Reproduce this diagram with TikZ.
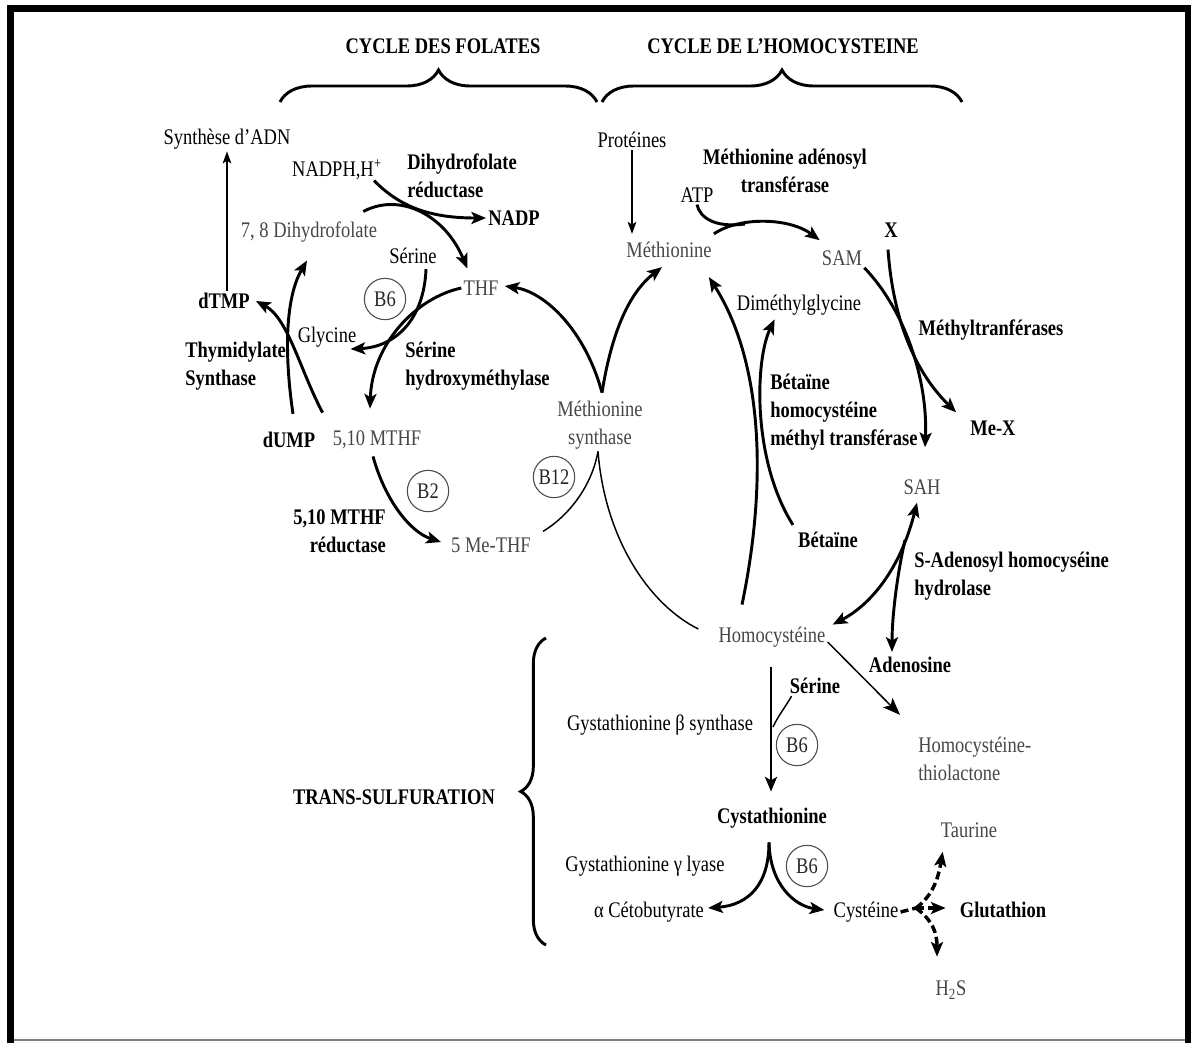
\documentclass[tikz,border=0pt]{standalone}
\usepackage{fontspec}
\setmainfont{Liberation Serif}[FakeStretch=0.83]
\usetikzlibrary{arrows.meta,calc,decorations.pathreplacing}
\newcommand{\dfont}{\fontsize{16.7pt}{21pt}\selectfont}
\tikzset{
 reg/.style={font=\dfont, text=black!72, inner sep=1.5pt},
 regb/.style={font=\dfont, text=black, inner sep=1.5pt},
 bld/.style={font=\dfont\bfseries, text=black, inner sep=1.5pt},
 vit/.style={circle, draw=black!70, line width=0.8pt, minimum size=31pt, inner sep=0pt, font=\dfont, text=black!85},
 thk/.style={line width=2.2pt, -{Stealth[length=11pt,width=9pt,inset=2.5pt]}},
 thkl/.style={line width=2.2pt},
 thn/.style={line width=1.1pt},
 thna/.style={line width=1.1pt, -{Stealth[length=9pt,width=6.5pt,inset=2pt]}},
 thnab/.style={line width=1.1pt, -{Stealth[length=13pt,width=10pt,inset=3pt]}},
 dsh/.style={line width=2.6pt, dash pattern=on 6pt off 3pt},
 dsha/.style={dsh, -{Stealth[length=11pt,width=9pt,inset=2.5pt]}},
 brc/.style={decorate, line width=2.2pt, decoration={brace, amplitude=#1}},
}
\begin{document}
\begin{tikzpicture}[x=0.75pt,y=-0.75pt]
\useasboundingbox (0,0) rectangle (1191,1043);
\fill[white] (0,0) rectangle (1191,1043);
% frame
\draw[line width=5.25pt, line join=miter] (10.5,1043) -- (10.5,8.5) -- (1188,8.5) -- (1188,1043);
\draw[black!50, line width=1pt] (14,1040) -- (1185,1040);

% titles and braces
\node[bld] (tfol) at (443,46) {CYCLE DES FOLATES};
\node[bld] (thcy) at (783,46) {CYCLE DE L’HOMOCYSTEINE};
\draw[brc=24pt] (280,102) -- (597,102);
\draw[brc=24pt] (602,102) -- (962,102);

% folate cycle nodes
\node[regb] (adn) at (227,139) {Synthèse d’ADN};
\node[regb] (nadph) at (337,170) {NADPH,H\textsuperscript{+}};
\node[bld, anchor=west, align=left] (dhfr) at (405,176) {Dihydrofolate\\réductase};
\node[bld] (nadp) at (514,218) {NADP};
\node[reg] (dhf) at (309,232) {7, 8 Dihydrofolate};
\node[regb] (ser1) at (413,256) {Sérine};
\node[reg] (thf) at (481,288) {THF};
\node[vit] (b6a) at (385,299) {B6};
\node[bld] (dtmp) at (224,301) {dTMP};
\node[regb] (gly) at (327,337) {Glycine};
\node[bld, anchor=west, align=left] (thy) at (183,366) {Thymidylate\\Synthase};
\node[bld, anchor=west, align=left] (shm) at (403,366) {Sérine\\hydroxyméthylase};
\node[bld] (dump) at (289,440) {dUMP};
\node[reg] (mthf) at (377,440) {5,10 MTHF};
\node[vit] (b2) at (428,491) {B2};
\node[bld, anchor=east, align=right] (mthfr) at (388,531) {5,10 MTHF\\réductase};
\node[reg] (methf) at (491,545) {5 Me-THF};
\node[vit] (b12) at (554,477) {B12};
\node[reg, align=center] (ms) at (600,425) {Méthionine\\synthase};

% homocysteine cycle nodes
\node[regb] (prot) at (632,140) {Protéines};
\node[bld, align=center] (mat) at (785,171) {Méthionine adénosyl\\transférase};
\node[regb] (atp) at (697,195) {ATP};
\node[reg] (met) at (669,250) {Méthionine};
\node[reg] (sam) at (842,258) {SAM};
\node[bld] (xx) at (891,230) {X};
\node[regb] (dmg) at (799,305) {Diméthylglycine};
\node[bld] (mtr) at (991,330) {Méthyltranférases};
\node[bld, anchor=west, align=left] (bhmt) at (768,412) {Bétaïne\\homocystéine\\méthyl transférase};
\node[bld] (mex) at (993,428) {Me-X};
\node[reg] (sah) at (922,487) {SAH};
\node[bld] (bet) at (828,540) {Bétaïne};
\node[bld, anchor=west, align=left] (sahh) at (912,576) {S-Adenosyl homocyséine\\hydrolase};
\node[reg] (hcy) at (772,637) {Homocystéine};
\node[bld] (ade) at (910,665) {Adenosine};

% trans-sulfuration nodes
\node[bld] (ser2) at (815,686) {Sérine};
\node[regb] (cbs) at (660,725) {Gystathionine β synthase};
\node[vit] (b6b) at (797,745) {B6};
\node[reg, anchor=west, align=left] (hct) at (916,759) {Homocystéine-\\thiolactone};
\node[bld] (trans) at (394,797) {TRANS-SULFURATION};
\draw[brc=19pt] (546,945) -- (546,638);
\node[bld] (cys) at (772,818) {Cystathionine};
\node[reg] (tau) at (969,830) {Taurine};
\node[regb] (cgl) at (645,866) {Gystathionine γ lyase};
\node[vit] (b6c) at (807,866) {B6};
\node[regb] (akb) at (649,912) {α Cétobutyrate};
\node[regb] (cyst) at (866,912) {Cystéine};
\node[bld] (glu) at (1003,910) {Glutathion};
\node[reg] (h2s) at (951,990) {H\textsubscript{2}S};

% folate connectors
\draw[thna] (dtmp.north -| adn.south) -- (adn.south);
\draw[thk] ($(nadph.south east)+(-10,-2)$) .. controls (400,207) and (430,218) .. (nadp.west);
\draw[thk] ($(dhf.north east)+(-16,-8)$) .. controls (400,192) and (445,215) .. ($(thf.north west)+(6,-10)$);
\draw[thk] (thf.west) .. controls (415,298) and (372,345) .. ($(mthf.north)+(-7,-20)$);
\draw[thk] ($(ser1.south)+(13,3)$) .. controls (424,320) and (395,347) .. ($(gly.east)+(-8,12)$);
\draw[thk] ($(dump.north)+(4,-16)$) .. controls (285,360) and (284,300) .. ($(dhf.south)+(-2,16)$);
\draw[thk] ($(mthf.north west)+(-8,-16)$) .. controls (300,370) and (288,318) .. ($(dtmp.east)+(4,0)$);
\draw[thk] ($(mthf.south)+(-4,5)$) .. controls (385,500) and (410,532) .. ($(methf.west)+(-8,-3)$);
\coordinate (msb) at ($(ms.south)+(-2,0)$);
\coordinate (mst) at ($(ms.north)+(2,-6)$);
\draw[thn] ($(methf.north east)+(10,-4)$) .. controls (570,515) and (592,485) .. (msb);
\draw[thn] (msb) .. controls (605,540) and (650,605) .. ($(hcy.west)+(-18,-8)$);
\draw[thk] (mst) .. controls (585,330) and (545,292) .. ($(thf.east)+(4,-2)$);
\draw[thk] (mst) .. controls (612,330) and (630,292) .. ($(met.south)+(-7,7)$);

% homocysteine cycle connectors
\draw[thna] (prot.south) -- ($(prot.south |- met.north)+(0,-6)$);
\draw[thk] ($(met.north east)+(0,-6)$) .. controls (740,216) and (790,218) .. ($(sam.north west)+(0,-8)$);
\coordinate (atpj) at (745,224);
\draw[thkl] (atp.south) .. controls (700,218) and (715,228) .. (atpj);
\draw[thk] (sam.south east) .. controls (905,310) and (928,380) .. ($(sah.north)+(3,-30)$);
\draw[thk] ($(xx.south)+(-3,10)$) .. controls (893,320) and (915,372) .. ($(mex.north west)+(-12,-6)$);
\draw[thk] ($(hcy.north)+(-30,-20)$) .. controls (768,480) and (762,360) .. ($(met.south east)+(-5,17)$);
\draw[thk] ($(bet.north west)+(-3,-5)$) .. controls (752,460) and (755,360) .. ($(dmg.south west)+(40,2)$);
\draw[line width=2.2pt, {Stealth[length=11pt,width=9pt,inset=2.5pt]}-{Stealth[length=11pt,width=9pt,inset=2.5pt]}] ($(sah.south)+(-5,6)$) .. controls (900,570) and (870,605) .. ($(hcy.north east)+(5,0)$);
\coordinate (sahj) at (905,540);
\draw[thk] (sahj) .. controls (896,580) and (892,620) .. ($(ade.north)+(-18,-3)$);

% trans-sulfuration connectors
\draw[thk] ($(hcy.south)+(-1,18)$) -- ($(cys.north)+(-1,-14)$);
\coordinate (serj) at (773,727);
\draw[thn] ($(ser2.south west)+(4,0)$) .. controls (786,706) and (778,716) .. (serj);
\draw[thnab] ($(hcy.east)+(0,5)$) -- ($(hct.north west)+(-16,-20)$);
\coordinate (cysj) at ($(cys.south)+(-3,12)$);
\draw[thk] (cysj) .. controls (769,885) and (748,905) .. ($(akb.east)+(2,-4)$);
\draw[thk] (cysj) .. controls (770,885) and (795,906) .. ($(cyst.west)+(-7,-2)$);
\coordinate (cj) at (916,908);
\draw[dsh] (cyst.east) -- (cj);
\draw[dsha] (cj) .. controls (932,896) and (938,880) .. ($(tau.south west)+(4,12)$);
\draw[dsha] (cj) -- ($(glu.west)+(-12,-2)$);
\draw[dsha] (cj) .. controls (932,920) and (937,932) .. ($(h2s.north)+(-14,-22)$);
\end{tikzpicture}
\end{document}
